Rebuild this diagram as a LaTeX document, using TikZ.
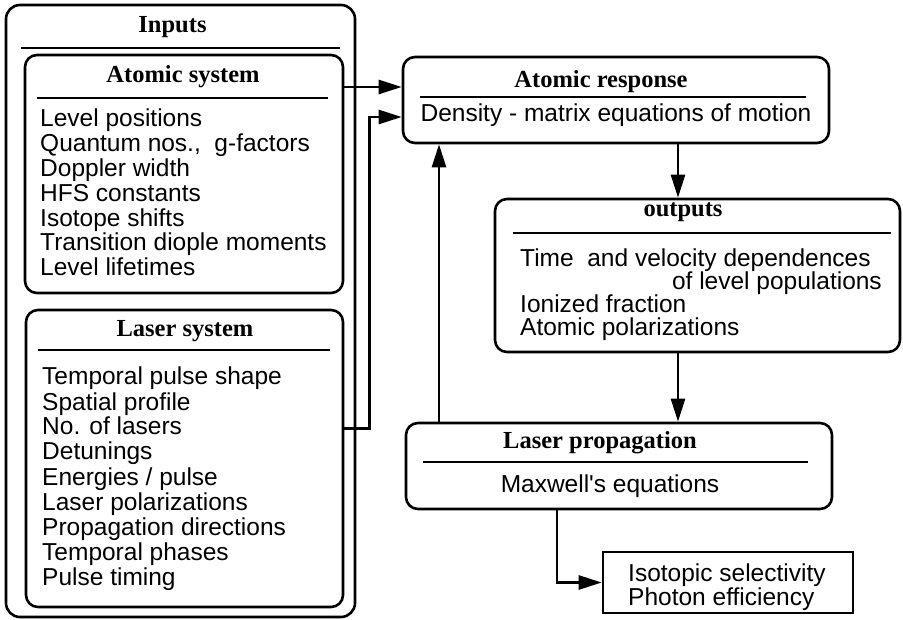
\documentclass[tikz,border=0pt]{standalone}
\usepackage{fontspec}
\setmainfont{Liberation Serif}
\setsansfont{Liberation Sans}
\usetikzlibrary{arrows.meta}

\begin{document}
\begin{tikzpicture}[x=1pt, y=-1pt]
        \def\lsep{24.8}
        \def\lsepb{25}
        \tikzstyle{box}=[draw=black, line width=2.6pt, rounded corners=12pt, inner sep=0pt]
        \tikzstyle{title}=[font=\fontsize{24.5}{26}\selectfont\bfseries, anchor=base, inner sep=0pt]
        \tikzstyle{item}=[font=\fontsize{24.5}{26}\selectfont\sffamily, anchor=base west, inner sep=0pt]
        \tikzstyle{rule}=[line width=2.6pt]
        \tikzstyle{link}=[line width=2.6pt, -{Triangle[length=23pt, width=14pt]}]

        \useasboundingbox (0,0) rectangle (903,620);

        % Inputs
        \draw node at (180.5, 311) [box, rounded corners=14pt, minimum width=349pt, minimum height=612pt] (inputs) {};
        \draw node at (172.5, 33) [title] (inputs_t) {Inputs};
        \draw [rule] (21, 48) -- (340, 48);

        % Atomic system
        \draw node at (184, 174) [box, minimum width=318pt, minimum height=238pt] (atomsys) {};
        \draw node at (183, 83) [title] (atomsys_t) {Atomic system};
        \draw [rule] (37, 98) -- (328, 98);
        \foreach \t [count=\i] in {Level positions, {Quantum nos.,\ \ g-factors}, Doppler width,
                HFS constants, Isotope shifts, Transition diople moments, Level lifetimes}
            \draw node at (40, 127 + \lsep*\i - \lsep) [item] (atom_\i) {\t};

        % Laser system
        \draw node at (184.5, 458.5) [box, minimum width=317pt, minimum height=297pt] (lasersys) {};
        \draw node at (185, 337) [title] (lasersys_t) {Laser system};
        \draw [rule] (38, 350) -- (330, 350);
        \foreach \t [count=\i] in {Temporal pulse shape, Spatial profile, No. of lasers, Detunings,
                Energies / pulse, Laser polarizations, Propagation directions, Temporal phases, Pulse timing}
            \draw node at (42, 385 + \lsepb*\i - \lsepb) [item] (laser_\i) {\t};

        % Atomic response
        \draw node at (616, 100) [box, minimum width=426pt, minimum height=86pt] (response) {};
        \draw node at (601, 88) [title] (response_t) {Atomic response};
        \draw [rule] (420, 97) -- (806, 97);
        \draw node at (616, 122) [item, anchor=base] (response_1) {Density - matrix equations of motion};

        % Outputs
        \draw node at (697.5, 275.5) [box, minimum width=405pt, minimum height=153pt] (outputs) {};
        \draw node at (683, 217) [title] (outputs_t) {outputs};
        \draw [rule] (513, 233) -- (891, 233);
        \draw node at (520, 267) [item] (outputs_1) {Time\ \ and velocity dependences};
        \draw node at (882, 290) [item, anchor=base east] (outputs_2) {of level populations};
        \draw node at (520, 313) [item] (outputs_3) {Ionized fraction};
        \draw node at (520, 336) [item] (outputs_4) {Atomic polarizations};

        % Laser propagation
        \draw node at (619, 466) [box, minimum width=426pt, minimum height=86pt] (laserprop) {};
        \draw node at (600, 449) [title] (laserprop_t) {Laser propagation};
        \draw [rule] (423, 462) -- (808, 462);
        \draw node at (610, 493) [item, anchor=base] (laserprop_1) {Maxwell\textquotesingle s equations};

        % Result
        \draw node at (728, 582.5) [box, rounded corners=0pt, minimum width=250pt, minimum height=61pt] (result) {};
        \draw node at (628, 605) [item, align=left, font=\fontsize{24.5}{22}\selectfont\sffamily] (result_1)
            {Isotopic selectivity\\Photon efficiency};

        % Links
        \coordinate (atom_in) at ([yshift=13pt]response.west);
        \coordinate (laser_in) at ([yshift=-17pt]response.west);
        \coordinate (fb) at (439, 0);
        \coordinate (mid) at (678, 0);
        \coordinate (out) at (557, 0);

        \draw [link] (atomsys.east |- atom_in) -- (atom_in);
        \draw [link] ([yshift=30pt]lasersys.east) -- ++(25,0) |- (laser_in);
        \draw [link] (laserprop.north -| fb) -- (response.south -| fb);
        \draw [link] (response.south -| mid) -- (outputs.north -| mid);
        \draw [link] (outputs.south -| mid) -- (laserprop.north -| mid);
        \draw [link] (laserprop.south -| out) |- (result.west);

    \end{tikzpicture}
\end{document}
